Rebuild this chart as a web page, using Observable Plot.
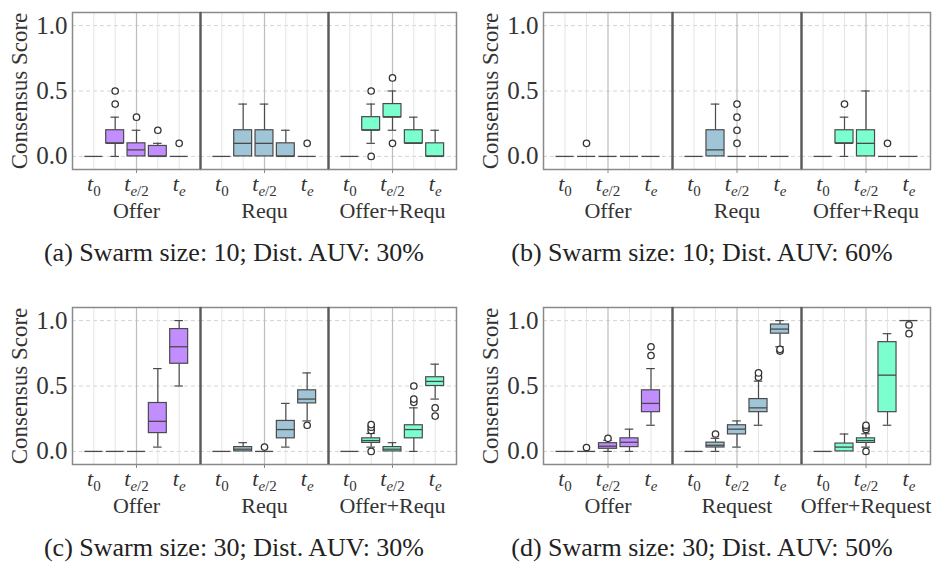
<!DOCTYPE html>
<html>
<head>
<meta charset="utf-8">
<script src="https://cdn.jsdelivr.net/npm/d3@7"></script>
<script src="https://cdn.jsdelivr.net/npm/@observablehq/plot@0.6"></script>
<style>
  html, body { margin: 0; padding: 0; background: #fff; }
  #root { position: relative; width: 936px; height: 563px; overflow: hidden; font-family: "Liberation Serif", "DejaVu Serif", serif; }
  .cell { position: absolute; width: 468px; }
  .cap { position: absolute; width: 468px; text-align: center; font-size: 26px; line-height: 24px; color: #222; white-space: nowrap; }
</style>
</head>
<body>
<div id="root"></div>
<script>
// ---------- shared labels ----------
const groupsShort = ["Offer", "Requ", "Offer+Requ"];
const groupsLong = ["Offer", "Request", "Offer+Request"];
const timeLabels = ["t0", "", "te/2", "", "te"];
const yTicks = [0, 0.5, 1.0];
const groupColors = ["#c28eff", "#9fc5d6", "#7cffcf"];
const captions = [
  "(a) Swarm size: 10; Dist. AUV: 30%",
  "(b) Swarm size: 10; Dist. AUV: 60%",
  "(c) Swarm size: 30; Dist. AUV: 30%",
  "(d) Swarm size: 30; Dist. AUV: 50%"
];

// ---------- panel (a) ----------
const aQ1  = [[0,0.1,0,0,0],[0,0,0,0,0],[0,0.2,0.3,0.1,0]];
const aMed = [[0,0.1,0.05,0,0],[0,0.1,0.1,0,0],[0,0.2,0.3,0.1,0]];
const aQ3  = [[0,0.2,0.1,0.08,0],[0,0.2,0.2,0.1,0],[0,0.3,0.4,0.2,0.1]];
const aLo  = [[0,0,0,0,0],[0,0,0,0,0],[0,0.1,0.2,0.1,0]];
const aHi  = [[0,0.3,0.2,0.1,0],[0,0.4,0.4,0.2,0],[0,0.4,0.5,0.3,0.2]];
const aOut = [[[],[0.4,0.5],[0.3],[0.2],[0.1]],[[],[],[],[],[0.1]],[[],[0,0.5],[0.1,0.6],[],[]]];

// ---------- panel (b) ----------
const bQ1  = [[0,0,0,0,0],[0,0,0,0,0],[0,0.1,0,0,0]];
const bMed = [[0,0,0,0,0],[0,0.05,0,0,0],[0,0.1,0.1,0,0]];
const bQ3  = [[0,0,0,0,0],[0,0.2,0,0,0],[0,0.2,0.2,0,0]];
const bLo  = [[0,0,0,0,0],[0,0,0,0,0],[0,0,0,0,0]];
const bHi  = [[0,0,0,0,0],[0,0.4,0,0,0],[0,0.3,0.5,0,0]];
const bOut = [[[],[0.1],[],[],[]],[[],[],[0.1,0.2,0.3,0.4],[],[]],[[],[0.4],[],[0.1],[]]];

// ---------- panel (c) ----------
const cQ1  = [[0,0,0,0.14,0.67],[0,0,0,0.1,0.367],[0,0.065,0,0.1,0.5]];
const cMed = [[0,0,0,0.23,0.8],[0,0.017,0,0.167,0.4],[0,0.083,0.017,0.167,0.535]];
const cQ3  = [[0,0,0,0.37,0.935],[0,0.033,0,0.233,0.467],[0,0.1,0.033,0.2,0.567]];
const cLo  = [[0,0,0,0.033,0.5],[0,0,0,0.033,0.233],[0,0.033,0,0,0.4]];
const cHi  = [[0,0,0,0.633,1.0],[0,0.067,0,0.367,0.6],[0,0.137,0.067,0.333,0.667]];
const cOut = [[[],[],[],[],[]],[[],[],[0.033],[],[0.2]],[[],[0,0.16,0.185,0.205],[],[0.375,0.4,0.5],[0.27,0.333]]];

// ---------- panel (d) ----------
const dQ1  = [[0,0,0.02,0.033,0.3],[0,0.03,0.13,0.3,0.9],[0,0,0.065,0.3,1.0]];
const dMed = [[0,0,0.04,0.07,0.367],[0,0.047,0.17,0.333,0.935],[0,0.033,0.083,0.583,1.0]];
const dQ3  = [[0,0,0.063,0.1,0.467],[0,0.067,0.2,0.4,0.97],[0,0.06,0.1,0.835,1.0]];
const dLo  = [[0,0,0,0,0.2],[0,0,0.033,0.2,0.8],[0,0,0.033,0.2,1.0]];
const dHi  = [[0,0,0.085,0.17,0.633],[0,0.1,0.233,0.537,1.0],[0,0.133,0.135,0.9,1.0]];
const dOut = [[[],[0.03],[0.1],[],[0.733,0.8]],[[],[0.133],[],[0.567,0.6],[0.767,0.78]],[[],[],[0,0.167,0.185,0.2],[],[0.9,0.967]]];

const FONT = '"Liberation Serif", "DejaVu Serif", serif';

function buildBoxes(groups, q1, med, q3, lo, hi) {
  const rows = [];
  groups.forEach((g, gi) => {
    for (let ti = 0; ti < q1[gi].length; ti++) {
      rows.push({g, pos: ti + 1, q1: q1[gi][ti], med: med[gi][ti], q3: q3[gi][ti],
                 lo: lo[gi][ti], hi: hi[gi][ti], color: groupColors[gi]});
    }
  });
  return rows;
}
function buildOutliers(groups, out) {
  const rows = [];
  groups.forEach((g, gi) => out[gi].forEach((vals, ti) => vals.forEach(v => rows.push({g, pos: ti + 1, v}))));
  return rows;
}

const HALF = 0.42, CAP = 0.2;
const boxStroke = "#4a4a4a";

function makePanel(groups, q1, med, q3, lo, hi, out, mLeft, mRight) {
  const boxes = buildBoxes(groups, q1, med, q3, lo, hi);
  const outs = buildOutliers(groups, out);
  const tickPos = timeLabels.map((t, i) => t ? i + 1 : null).filter(d => d !== null);
  const positions = timeLabels.map((t, i) => i + 1);
  const dividers = groups.slice(1).map(g => ({g}));
  const svg = Plot.plot({
    width: 468, height: 225,
    marginLeft: mLeft, marginRight: mRight, marginTop: 12, marginBottom: 56,
    x: {domain: [0, timeLabels.length + 1], label: null},
    y: {domain: [-0.1, 1.1]},
    fx: {domain: groups, paddingInner: 0, paddingOuter: 0, label: null},
    color: {type: "identity"},
    style: {fontFamily: FONT, background: "white", color: "#333", overflow: "visible"},
    marks: [
      Plot.ruleY(yTicks, {stroke: "#d4d4d4", strokeDasharray: "4,3", strokeWidth: 1}),
      Plot.ruleX(positions.filter(p => p !== 3), {stroke: "#e4e4e4", strokeWidth: 1}),
      Plot.ruleX([3], {stroke: "#bdbdbd", strokeWidth: 1.2}),
      Plot.ruleX(boxes, {x: "pos", y1: "q3", y2: "hi", fx: "g", stroke: boxStroke, strokeWidth: 1.2}),
      Plot.ruleX(boxes, {x: "pos", y1: "lo", y2: "q1", fx: "g", stroke: boxStroke, strokeWidth: 1.2}),
      Plot.ruleY(boxes.filter(d => d.hi > d.q3), {y: "hi", x1: d => d.pos - CAP, x2: d => d.pos + CAP, fx: "g", stroke: boxStroke, strokeWidth: 1.2}),
      Plot.ruleY(boxes.filter(d => d.lo < d.q1), {y: "lo", x1: d => d.pos - CAP, x2: d => d.pos + CAP, fx: "g", stroke: boxStroke, strokeWidth: 1.2}),
      Plot.rect(boxes.filter(d => d.q3 > d.q1), {x1: d => d.pos - HALF, x2: d => d.pos + HALF, y1: "q1", y2: "q3", fx: "g", fill: "color", stroke: boxStroke, strokeWidth: 1.2}),
      Plot.ruleY(boxes, {y: "med", x1: d => d.pos - HALF, x2: d => d.pos + HALF, fx: "g", stroke: boxStroke, strokeWidth: 1.3}),
      Plot.dot(outs, {x: "pos", y: "v", fx: "g", r: 3.2, stroke: "#333", strokeWidth: 1.3, fill: "white"}),
      Plot.frame({stroke: "#8a8a8a", strokeWidth: 1.5}),
      Plot.ruleX(dividers, {x: () => 0, fx: "g", stroke: "#5a5a5a", strokeWidth: 2.2}),
      Plot.axisY({ticks: yTicks, tickFormat: d3.format(".1f"), tickSize: 0, tickPadding: 5, fontSize: 25,
                  label: "Consensus Score", labelAnchor: "center", labelArrow: "none", labelOffset: 62}),
      Plot.axisX({ticks: [3], tickSize: 4, tickFormat: () => "", stroke: "#888", label: null}),
      Plot.axisX({ticks: tickPos, tickSize: 0, tickPadding: 6, fontSize: 22, label: null,
                  tickFormat: d => timeLabels[d - 1]}),
      Plot.axisFx({anchor: "bottom", tickSize: 0, tickPadding: 33, fontSize: 22, label: null})
    ]
  });
  // y-axis title size
  d3.select(svg).selectAll('g[aria-label="y-axis label"] text').attr("font-size", 23);
  // format subscripts of the time tick labels
  d3.select(svg).selectAll('g[aria-label="x-axis tick label"] text').each(function () {
    const s = this.textContent;
    if (!s) return;
    const t = d3.select(this);
    t.text("");
    t.append("tspan").attr("font-style", "italic").text(s[0]);
    const sub = s.slice(1);
    let first = true;
    for (const ch of sub) {
      const ts = t.append("tspan").attr("font-size", "15px").text(ch);
      if (/[a-z]/.test(ch)) ts.attr("font-style", "italic");
      if (first) { ts.attr("dy", "0.3em"); first = false; }
    }
  });
  return svg;
}

const root = document.getElementById("root");
const panels = [
  {args: [groupsShort, aQ1, aMed, aQ3, aLo, aHi, aOut], left: 0,   top: 0,   m: [71, 11]},
  {args: [groupsShort, bQ1, bMed, bQ3, bLo, bHi, bOut], left: 468, top: 0,   m: [75, 6]},
  {args: [groupsShort, cQ1, cMed, cQ3, cLo, cHi, cOut], left: 0,   top: 295, m: [71, 11]},
  {args: [groupsLong,  dQ1, dMed, dQ3, dLo, dHi, dOut], left: 468, top: 295, m: [75, 6]}
];
panels.forEach((p, i) => {
  const cell = document.createElement("div");
  cell.className = "cell";
  cell.style.left = p.left + "px";
  cell.style.top = p.top + "px";
  cell.appendChild(makePanel(...p.args, p.m[0], p.m[1]));
  root.appendChild(cell);
  const cap = document.createElement("div");
  cap.className = "cap";
  cap.style.left = p.left + "px";
  cap.style.top = (p.top + 241) + "px";
  cap.textContent = captions[i];
  root.appendChild(cap);
});
</script>
</body>
</html>
